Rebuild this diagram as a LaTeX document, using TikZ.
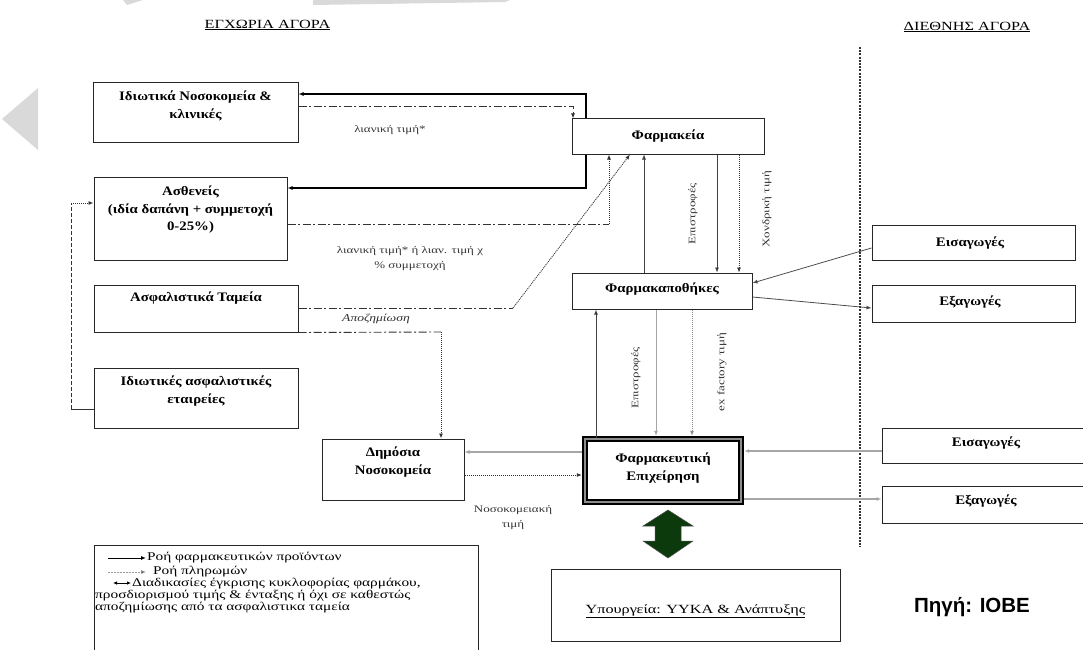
\documentclass[tikz,border=0pt]{standalone}
\usepackage{fontspec}
\setmainfont{Liberation Serif}
\newfontfamily\wA{Liberation Serif}[FakeStretch=1.14]
\newfontfamily\wB{Liberation Serif}[FakeStretch=1.3]
\newfontfamily\sansf{Liberation Sans}
\usetikzlibrary{arrows.meta}
\begin{document}
\begin{tikzpicture}[x=1pt,y=-1pt,
  box/.style={draw=black!85, line width=1pt, fill=white, inner sep=0pt},
  btxt/.style={font=\wA\fontsize{13}{17.5}\selectfont\bfseries, align=center, inner sep=0pt},
  lbl/.style={font=\wB\fontsize{10}{15}\selectfont, align=center, inner sep=0pt, text=black!80},
  hdr/.style={font=\wB\fontsize{12.5}{14}\selectfont, inner sep=0pt},
  lgd/.style={font=\wB\fontsize{11.8}{11.8}\selectfont, inner sep=0pt},
  tipa/.style={-{Latex[length=5pt,width=4pt]}},
  prod/.style={draw=black, line width=1.2pt, tipa},
  pline/.style={draw=black!75, line width=0.7pt, tipa},
  gline/.style={draw=black!35, line width=1.2pt, tipa},
  ddash/.style={draw=black!80, line width=0.9pt, dash pattern=on 8pt off 2.5pt on 2pt off 2.5pt},
  dotl/.style={draw=black!80, line width=0.9pt, dash pattern=on 1pt off 1pt},
  wm/.style={fill=black!15, draw=none}
]
\useasboundingbox (0,0) rectangle (1083,650);
% watermark remnants
\fill[wm] (38,88) -- (38,150) -- (2,119) -- cycle;
\fill[wm] (123,0) -- (143,0) -- (127,5) -- cycle;
\fill[wm] (313,0) -- (510,0) -- (505,2) -- (313,5) -- cycle;

% headers
\node[hdr] (hl) at (267.5,25) {\underline{ΕΓΧΩΡΙΑ ΑΓΟΡΑ}};
\node[hdr] (hr) at (967,27) {\underline{ΔΙΕΘΝΗΣ ΑΓΟΡΑ}};
% border between markets
\coordinate (bt) at (860,47);
\coordinate (bb) at (860,547);
\draw[dotl, line width=1.2pt, dash pattern=on 2pt off 1.2pt] (bt) -- (bb);

% boxes
\node[box, minimum width=205pt, minimum height=59pt] (priv) at (195.5,112.5) {};
\node[btxt] (privt) at (195.5,106) {Ιδιωτικά Νοσοκομεία \&\\κλινικές};
\node[box, minimum width=192pt, minimum height=35pt] (pharm) at (668,136.5) {};
\node[btxt] (pharmt) at (668,136.5) {Φαρμακεία};
\node[box, minimum width=193pt, minimum height=83pt] (pat) at (190.5,218.5) {};
\node[btxt] (patt) at (190.5,210) {Ασθενείς\\(ιδία δαπάνη + συμμετοχή\\0-25\%)};
\node[box, minimum width=204pt, minimum height=47pt] (fund) at (196,308.5) {};
\node[btxt] (fundt) at (196,298) {Ασφαλιστικά Ταμεία};
\node[box, minimum width=204pt, minimum height=60pt] (ins) at (196,398) {};
\node[btxt] (inst) at (196,391) {Ιδιωτικές ασφαλιστικές\\εταιρείες};
\node[box, minimum width=180pt, minimum height=36pt] (whole) at (662,291) {};
\node[btxt] (wholet) at (662,289) {Φαρμακαποθήκες};
\node[box, minimum width=203pt, minimum height=35pt] (imp1) at (973.5,242.5) {};
\node[btxt] (imp1t) at (970,243) {Εισαγωγές};
\node[box, minimum width=203pt, minimum height=37pt] (exp1) at (973.5,303.5) {};
\node[btxt] (exp1t) at (970,302) {Εξαγωγές};
\node[box, minimum width=142pt, minimum height=61pt] (pub) at (393,469.5) {};
\node[btxt] (pubt) at (393,462) {Δημόσια\\Νοσοκομεία};
\node[draw=black, line width=1.3pt, double=black!45, double distance=2.6pt, fill=white,
      minimum width=156pt, minimum height=63pt, inner sep=0pt] (comp) at (663,470.5) {};
\node[btxt] (compt) at (663,468) {Φαρμακευτική\\Επιχείρηση};
\node[box, minimum width=210pt, minimum height=35pt] (imp2) at (987,445.5) {};
\node[btxt] (imp2t) at (986,443) {Εισαγωγές};
\node[box, minimum width=210pt, minimum height=37pt] (exp2) at (987,504.5) {};
\node[btxt] (exp2t) at (986,501) {Εξαγωγές};
\node[box, minimum width=289pt, minimum height=72pt] (min) at (695.5,605) {};
\node[hdr] (mint) at (695.5,611) {\underline{Υπουργεία: ΥΥΚΑ \& Ανάπτυξης}};
\node[font=\sansf\bfseries\fontsize{20.5}{24}\selectfont, inner sep=0pt] (src) at (972,607) {Πηγή: ΙΟΒΕ};

% big green double arrow
\fill[fill={rgb,255:red,12;green,58;blue,12}, draw=black!70, line width=0.5pt]
  (668,510) -- (693,526) -- (681,526) -- (681,541) -- (693,541) -- (668,558)
  -- (643,541) -- (655,541) -- (655,526) -- (643,526) -- cycle;

% coordinates for bends
\coordinate (c1) at (586,94);
\coordinate (c2) at (586,188);
\coordinate (c3) at (573,106);
\coordinate (c4) at (609,224);
\coordinate (c5) at (513,308);
\coordinate (c6) at (630,0);
\coordinate (c7) at (441,332);
\coordinate (c8) at (71,409);
\coordinate (c9) at (71,203);
\coordinate (c10) at (644,0);
\coordinate (c11) at (717,0);
\coordinate (c12) at (739,0);
\coordinate (c13) at (596,0);
\coordinate (c14) at (656,0);
\coordinate (c15) at (692,0);
\coordinate (c16) at (0,452);
\coordinate (c17) at (0,475);
\coordinate (c18) at (0,451);
\coordinate (c19) at (0,499);

% product flows from pharmacies
\draw[prod] (pharm.north -| c1) -- (c1) -- (priv.east |- c1);
\draw[prod] (pharm.south -| c2) -- (c2) -- (pat.east |- c2);
% payments to pharmacies
\draw[ddash, tipa] (priv.east |- c3) -- (c3) -- (pharm.north -| c3);
\draw[ddash] (pat.east |- c4) -- (c4);
\draw[dotl, tipa] (c4) -- (pharm.south -| c4);
\draw[ddash] (fund.east |- c5) -- (c5);
\draw[dotl, tipa] (c5) -- (pharm.south -| c6);
\draw[ddash] (fund.south east) -- (c7);
\draw[dotl, tipa] (c7) -- (pub.north -| c7);
% private insurers -> patients
\draw[black!80, line width=1pt] (ins.west |- c8) -- (c8);
\draw[black!80, line width=1pt, dash pattern=on 4pt off 2pt] (c8) -- (c9);
\draw[dotl, tipa] (c9) -- (pat.west |- c9);

% pharmacies <-> wholesalers
\draw[pline] (whole.north -| c10) -- (pharm.south -| c10);
\draw[pline] (pharm.south -| c11) -- (whole.north -| c11);
\draw[dotl, line width=0.7pt, tipa] (pharm.south -| c12) -- (whole.north -| c12);
\node[lbl, rotate=90] (l1) at (693,214) {Επιστροφές};
\node[lbl, rotate=90] (l2) at (767,209) {Χονδρική τιμή};

% wholesalers <-> international
\draw[black!70, line width=0.8pt, tipa] ([yshift=-5.5pt]imp1.west) -- ([yshift=8pt]whole.east);
\draw[black!70, line width=0.8pt, tipa] ([yshift=-6pt]whole.east) -- ([yshift=-4.5pt]exp1.west);

% company <-> wholesalers
\draw[pline, line width=1pt] (comp.north -| c13) -- (whole.south -| c13);
\draw[gline, line width=0.9pt, shorten >=2.5pt] (whole.south -| c14) -- (comp.north -| c14);
\draw[dotl, draw=black!45, line width=0.9pt, tipa, shorten >=2.5pt] (whole.south -| c15) -- (comp.north -| c15);
\node[lbl, rotate=90] (l3) at (636,378) {Επιστροφές};
\node[lbl, rotate=90] (l4) at (722,372) {ex factory τιμή};

% company <-> public hospitals
\draw[gline, shorten <=2.8pt] (comp.west |- c16) -- (pub.east |- c16);
\draw[dotl, tipa, shorten >=2.5pt] (pub.east |- c17) -- (comp.west |- c17);
\node[lbl] (l5) at (513,518) {Νοσοκομειακή\\τιμή};

% company <-> international
\draw[gline, shorten >=2.5pt] (imp2.west |- c18) -- (comp.east |- c18);
\draw[gline, shorten <=2.8pt] (comp.east |- c19) -- (exp2.west |- c19);

% labels on payment lines
\node[lbl] (l6) at (390,130) {λιανική τιμή*};
\node[lbl] (l7) at (410,259) {λιανική τιμή* ή λιαν. τιμή χ\\\% συμμετοχή};
\node[lbl, font=\wB\fontsize{10.5}{11}\selectfont\itshape] (l8) at (376,319) {Αποζημίωση};

% legend
\draw[black!85, line width=1pt] (94,650) -- (94,545) -- (478,545) -- (478,650);
\coordinate (g1a) at (108,558); \coordinate (g1b) at (146,558);
\coordinate (g2a) at (108,572); \coordinate (g2b) at (146,572);
\coordinate (g3a) at (113,583); \coordinate (g3b) at (131,583);
\draw[black, line width=1pt, tipa] (g1a) -- (g1b);
\draw[black!40, line width=0.7pt, dash pattern=on 2pt off 1pt, -{Latex[length=5pt,width=4pt,fill=black]}] (g2a) -- (g2b);
\draw[black, line width=0.8pt, {Latex[length=4pt,width=3.5pt]}-{Latex[length=4pt,width=3.5pt]}] (g3a) -- (g3b);
\node[lgd, anchor=west] (lg1) at (147,558) {Ροή φαρμακευτικών προϊόντων};
\node[lgd, anchor=west] (lg2) at (153,572) {Ροή πληρωμών};
\node[lgd, anchor=north west, align=left] (lg3) at (95,578) {\hspace*{37pt}Διαδικασίες έγκρισης κυκλοφορίας φαρμάκου,\\προσδιορισμού τιμής \& ένταξης ή όχι σε καθεστώς\\αποζημίωσης από τα ασφαλιστικα ταμεία};
\end{tikzpicture}
\end{document}
